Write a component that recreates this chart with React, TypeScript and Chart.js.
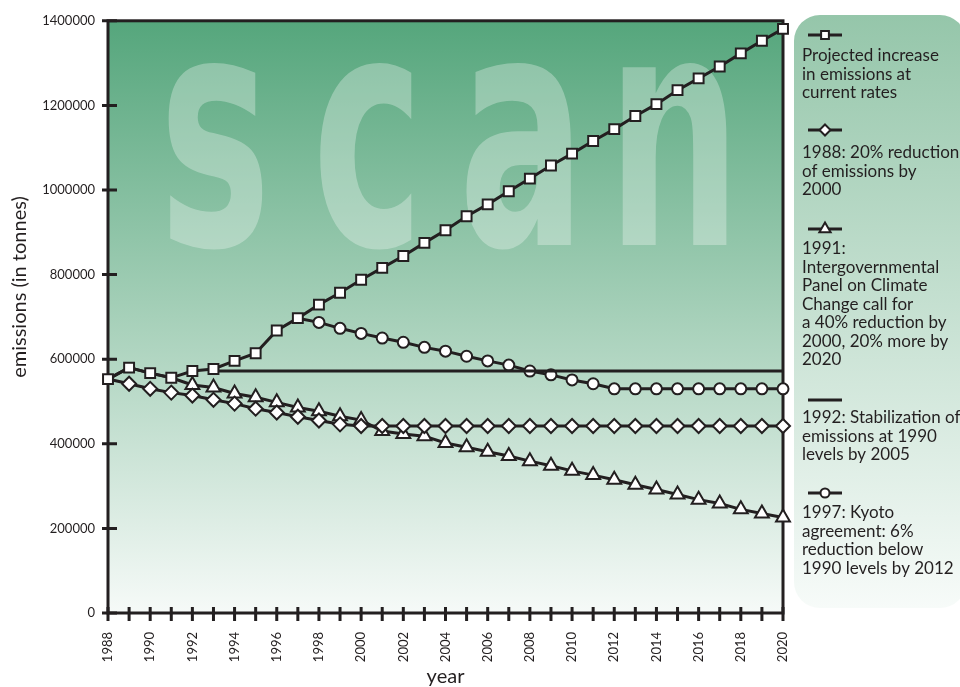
import React, { useEffect, useRef } from 'react';
import { Chart, registerables } from 'chart.js';

Chart.register(...registerables);

const years = [
  1988, 1989, 1990, 1991, 1992, 1993, 1994, 1995, 1996, 1997, 1998, 1999, 2000,
  2001, 2002, 2003, 2004, 2005, 2006, 2007, 2008, 2009, 2010, 2011, 2012, 2013,
  2014, 2015, 2016, 2017, 2018, 2019, 2020,
];

const yTickValues = [0, 200000, 400000, 600000, 800000, 1000000, 1200000, 1400000];

const projected = [
  553000, 580000, 567000, 556000, 572000, 577000, 596000, 614000, 668000, 697000,
  729000, 757000, 788000, 816000, 844000, 875000, 905000, 938000, 966000, 997000,
  1027000, 1058000, 1086000, 1116000, 1144000, 1175000, 1203000, 1236000, 1264000,
  1292000, 1323000, 1353000, 1381000,
];

const reduction1988 = [
  553000, 542000, 530000, 521000, 514000, 504000, 495000, 483000, 474000, 464000,
  455000, 446000, 442000, 442000, 442000, 442000, 442000, 442000, 442000, 442000,
  442000, 442000, 442000, 442000, 442000, 442000, 442000, 442000, 442000, 442000,
  442000, 442000, 442000,
];

const ipcc1991 = [
  553000, 580000, 567000, 556000, 539000, 533000, 519000, 510000, 498000, 486000,
  477000, 465000, 456000, 430000, 423000, 418000, 402000, 392000, 381000, 371000,
  359000, 348000, 336000, 326000, 315000, 303000, 292000, 280000, 268000, 259000,
  245000, 235000, 226000,
];

const stabilization1992 = [
  null, null, null, null, null, 572000, 572000, 572000, 572000, 572000, 572000,
  572000, 572000, 572000, 572000, 572000, 572000, 572000, 572000, 572000, 572000,
  572000, 572000, 572000, 572000, 572000, 572000, 572000, 572000, 572000, 572000,
  572000, 572000,
];

const kyoto1997 = [
  null, null, null, null, null, null, null, null, null, 697000, 687000, 673000,
  661000, 650000, 640000, 628000, 619000, 607000, 596000, 586000, 572000, 563000,
  551000, 542000, 530000, 530000, 530000, 530000, 530000, 530000, 530000, 530000,
  530000,
];

const legendLines = [
  ['Projected increase', 'in emissions at', 'current rates'],
  ['1988: 20% reduction', 'of emissions by', '2000'],
  ['1991:', 'Intergovernmental', 'Panel on Climate', 'Change call for', 'a 40% reduction by', '2000, 20% more by', '2020'],
  ['1992: Stabilization of', 'emissions at 1990', 'levels by 2005'],
  ['1997: Kyoto', 'agreement: 6%', 'reduction below', '1990 levels by 2012'],
];

const legendStyles = ['rect', 'rectRot', 'triangle', 'none', 'circle'];

const watermarkLetters = ['s', 'c', 'a', 'n'];

const xTitle = 'year';
const yTitle = 'emissions (in tonnes)';

const INK = '#231f20';
const FONT = 'Lato';

function drawMarker(ctx: CanvasRenderingContext2D, style: string, x: number, y: number, r: number) {
  ctx.beginPath();
  if (style === 'rect') {
    const s = r * Math.SQRT1_2;
    ctx.rect(x - s, y - s, 2 * s, 2 * s);
  } else if (style === 'rectRot') {
    ctx.moveTo(x, y - r);
    ctx.lineTo(x + r, y);
    ctx.lineTo(x, y + r);
    ctx.lineTo(x - r, y);
    ctx.closePath();
  } else if (style === 'triangle') {
    let a = 0;
    ctx.moveTo(x + Math.sin(a) * r, y - Math.cos(a) * r);
    a += (2 * Math.PI) / 3;
    ctx.lineTo(x + Math.sin(a) * r, y - Math.cos(a) * r);
    a += (2 * Math.PI) / 3;
    ctx.lineTo(x + Math.sin(a) * r, y - Math.cos(a) * r);
    ctx.closePath();
  } else if (style === 'circle') {
    ctx.arc(x, y, r, 0, Math.PI * 2);
  } else {
    return;
  }
  ctx.fillStyle = '#ffffff';
  ctx.fill();
  ctx.lineWidth = 2;
  ctx.strokeStyle = INK;
  ctx.stroke();
}

export default function App() {
  const ref = useRef<HTMLCanvasElement>(null);

  useEffect(() => {
    document.body.style.margin = '0';
    const canvas = ref.current;
    if (!canvas) return;

    const decor = {
      id: 'decor',
      beforeDraw(chart: any) {
        const { ctx, chartArea: a } = chart;
        ctx.save();
        // legend panel
        const lx = 794, ly = 15, lw = 172, lh = 593;
        const lg = ctx.createLinearGradient(0, ly, 0, ly + lh);
        lg.addColorStop(0, '#95c6aa');
        lg.addColorStop(1, '#f7fbf9');
        ctx.fillStyle = lg;
        ctx.beginPath();
        ctx.roundRect(lx, ly, lw, lh, 26);
        ctx.fill();
        // plot background
        const g = ctx.createLinearGradient(0, a.top, 0, a.bottom);
        g.addColorStop(0, '#55a67c');
        g.addColorStop(0.5, '#a6d0b9');
        g.addColorStop(1, '#f6faf8');
        ctx.fillStyle = g;
        ctx.fillRect(a.left, a.top, a.right - a.left, a.bottom - a.top);
        // watermark
        ctx.fillStyle = 'rgba(255,255,255,0.3)';
        ctx.font = `bold 325px "DejaVu Sans"`;
        ctx.textAlign = 'center';
        ctx.textBaseline = 'alphabetic';
        const centers = [215, 368, 522, 674];
        watermarkLetters.forEach((l, i) => {
          ctx.save();
          ctx.translate(centers[i], 245);
          ctx.scale(0.58, 1);
          ctx.fillText(l, 0, 0);
          ctx.restore();
        });
        ctx.restore();
      },
      beforeDatasetsDraw(chart: any) {
        const { ctx, chartArea: a, scales } = chart;
        const x = scales.x, y = scales.y;
        ctx.save();
        ctx.strokeStyle = INK;
        ctx.lineWidth = 3;
        ctx.strokeRect(a.left, a.top, a.right - a.left, a.bottom - a.top);
        ctx.beginPath();
        x.ticks.forEach((_t: any, i: number) => {
          const px = x.getPixelForTick(i);
          ctx.moveTo(px, a.bottom - 6);
          ctx.lineTo(px, a.bottom + 8);
        });
        y.ticks.forEach((_t: any, i: number) => {
          const py = y.getPixelForTick(i);
          ctx.moveTo(a.left - 6, py);
          ctx.lineTo(a.left + 9, py);
        });
        ctx.stroke();
        ctx.restore();
      },
      afterDraw(chart: any) {
        const { ctx, chartArea: a } = chart;
        ctx.save();
        ctx.fillStyle = INK;
        // axis titles
        ctx.font = `20px ${FONT}`;
        ctx.textAlign = 'center';
        ctx.textBaseline = 'middle';
        ctx.fillText(xTitle, (a.left + a.right) / 2, 677);
        ctx.save();
        ctx.translate(20, 287);
        ctx.rotate(-Math.PI / 2);
        ctx.fillText(yTitle, 0, 0);
        ctx.restore();
        // legend
        const markerYs = [35, 130, 229, 400, 493];
        const textYs = [56, 153, 249, 418, 513];
        const radii = [5.5, 5.5, 6.5, 0, 4.5];
        legendLines.forEach((lines, i) => {
          const my = markerYs[i];
          ctx.beginPath();
          ctx.strokeStyle = INK;
          ctx.lineWidth = 3;
          ctx.moveTo(808, my);
          ctx.lineTo(842, my);
          ctx.stroke();
          drawMarker(ctx, legendStyles[i], 825, my, radii[i]);
          ctx.fillStyle = INK;
          ctx.font = `17px ${FONT}`;
          ctx.textAlign = 'left';
          ctx.textBaseline = 'middle';
          lines.forEach((t, j) => ctx.fillText(t, 802, textYs[i] + j * 18.5));
        });
        ctx.restore();
      },
    };

    const common = {
      borderColor: INK,
      borderWidth: 3,
      pointBackgroundColor: '#ffffff',
      pointBorderColor: INK,
      pointBorderWidth: 2,
      tension: 0,
      fill: false,
    };

    const chart = new Chart(canvas, {
      type: 'line',
      data: {
        labels: years.map(String),
        datasets: [
          { ...common, label: legendLines[0].join(' '), data: projected, pointStyle: 'rect', pointRadius: 7 },
          { ...common, label: legendLines[1].join(' '), data: reduction1988, pointStyle: 'rectRot', pointRadius: (c: any) => (c.dataIndex < 1 ? 0 : 7) },
          { ...common, label: legendLines[2].join(' '), data: ipcc1991, pointStyle: 'triangle', pointRadius: (c: any) => (c.dataIndex < 4 ? 0 : 8) },
          { ...common, label: legendLines[3].join(' '), data: stabilization1992 as any, pointRadius: 0 },
          { ...common, label: legendLines[4].join(' '), data: kyoto1997 as any, pointStyle: 'circle', pointRadius: (c: any) => (c.dataIndex < 10 ? 0 : 5.5) },
        ],
      },
      options: {
        animation: false,
        responsive: false,
        layout: { padding: { top: 16, right: 177, left: 0, bottom: 0 } },
        plugins: { legend: { display: false }, tooltip: { enabled: false } },
        scales: {
          x: {
            type: 'category',
            offset: false,
            grid: { display: false, drawTicks: false },
            border: { display: false },
            ticks: {
              autoSkip: false,
              maxRotation: 90,
              minRotation: 90,
              padding: 19,
              color: INK,
              font: { family: FONT, size: 13 },
              callback: (_v: any, i: number) => (years[i] % 2 === 0 ? String(years[i]) : ''),
            },
            afterFit: (s: any) => { s.height = 74; },
          },
          y: {
            min: 0,
            max: 1400000,
            grid: { display: false, drawTicks: false },
            border: { display: false },
            ticks: {
              padding: 13,
              color: INK,
              font: { family: FONT, size: 13 },
              callback: (v: any) => String(v),
            },
            afterBuildTicks: (s: any) => { s.ticks = yTickValues.map((v) => ({ value: v })); },
            afterFit: (s: any) => { s.width = 108; },
          },
        },
      } as any,
      plugins: [decor],
    });

    return () => chart.destroy();
  }, []);

  return <canvas ref={ref} width={960} height={687} style={{ display: 'block' }} />;
}
